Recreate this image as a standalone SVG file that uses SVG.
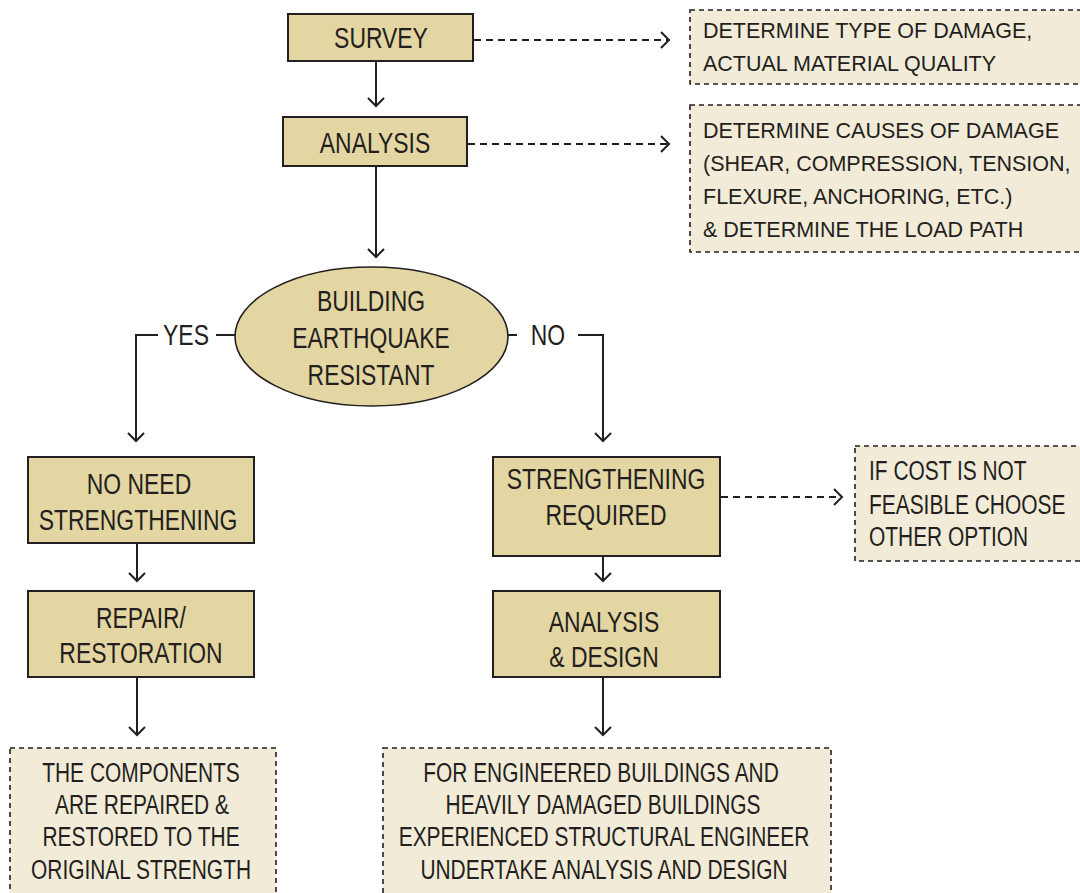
<svg xmlns="http://www.w3.org/2000/svg" width="1080" height="893" viewBox="0 0 1080 893">
<defs>
<style>
.box{fill:#E4D6A2;stroke:#231F20;stroke-width:2}
.note{fill:#F2EBD7;stroke:#231F20;stroke-width:1.6;stroke-dasharray:5 4}
.ln{fill:none;stroke:#231F20;stroke-width:2}
.dl{fill:none;stroke:#231F20;stroke-width:1.8;stroke-dasharray:7 5}
.t{font-family:"Liberation Sans",Arial,sans-serif;font-size:29px;fill:#231F20;text-anchor:middle}
.n{font-family:"Liberation Sans",Arial,sans-serif;font-size:21.5px;fill:#231F20}
.c{font-family:"Liberation Sans",Arial,sans-serif;font-size:27px;fill:#231F20}
.m{text-anchor:middle}
</style>
<marker id="ah" markerUnits="userSpaceOnUse" markerWidth="20" markerHeight="20" viewBox="-10 -10 20 20" refX="0" refY="0" orient="auto">
<path d="M-8,-8 L0,0 L-8,8" fill="none" stroke="#231F20" stroke-width="2"/>
</marker>
</defs>
<rect width="1080" height="893" fill="#FFFFFF"/>
<g id="connectors">
<path class="ln" d="M376,61 V106" marker-end="url(#ah)"/>
<path class="ln" d="M376,166 V257" marker-end="url(#ah)"/>
<path class="ln" d="M235,335 H216"/>
<path class="ln" d="M158,335 H136 V441" marker-end="url(#ah)"/>
<path class="ln" d="M508,335 H517"/>
<path class="ln" d="M578,335 H603 V441" marker-end="url(#ah)"/>
<path class="ln" d="M137,543 V581" marker-end="url(#ah)"/>
<path class="ln" d="M137,677 V735" marker-end="url(#ah)"/>
<path class="ln" d="M603,556 V581" marker-end="url(#ah)"/>
<path class="ln" d="M603,677 V735" marker-end="url(#ah)"/>
<path class="dl" d="M474,40 H669" marker-end="url(#ah)"/>
<path class="dl" d="M468,144 H669" marker-end="url(#ah)"/>
<path class="dl" d="M721,497 H842" marker-end="url(#ah)"/>
<text class="t" transform="matrix(0.79,0,0,1,186,0)" x="0" y="345">YES</text>
<text class="t" transform="matrix(0.79,0,0,1,548,0)" x="0" y="345">NO</text>
</g>
<g id="survey">
<rect class="box" x="288" y="14" width="185" height="47"/>
<text class="t" transform="matrix(0.79,0,0,1,381,0)" x="0" y="48">SURVEY</text>
</g>
<g id="analysis">
<rect class="box" x="283" y="117" width="184" height="49"/>
<text class="t" transform="matrix(0.79,0,0,1,375,0)" x="0" y="153">ANALYSIS</text>
</g>
<g id="note-survey">
<rect class="note" x="690" y="10" width="400" height="74"/>
<text class="n" x="703" y="38">DETERMINE TYPE OF DAMAGE,</text>
<text class="n" x="703" y="71">ACTUAL MATERIAL QUALITY</text>
</g>
<g id="note-analysis">
<rect class="note" x="690" y="105" width="400" height="147"/>
<text class="n" x="703" y="138">DETERMINE CAUSES OF DAMAGE</text>
<text class="n" x="703" y="171">(SHEAR, COMPRESSION, TENSION,</text>
<text class="n" x="703" y="204">FLEXURE, ANCHORING, ETC.)</text>
<text class="n" x="703" y="237">&amp; DETERMINE THE LOAD PATH</text>
</g>
<g id="decision">
<ellipse cx="371.5" cy="336.5" rx="136.5" ry="69.5" fill="#E4D6A2" stroke="#231F20" stroke-width="1.6"/>
<text class="t" transform="matrix(0.79,0,0,1,371,0)" x="0" y="311">BUILDING</text>
<text class="t" transform="matrix(0.79,0,0,1,371,0)" x="0" y="348">EARTHQUAKE</text>
<text class="t" transform="matrix(0.79,0,0,1,371,0)" x="0" y="385">RESISTANT</text>
</g>
<g id="no-need">
<rect class="box" x="28" y="457" width="226" height="86"/>
<text class="t" transform="matrix(0.79,0,0,1,139,0)" x="0" y="494">NO NEED</text>
<text class="t" transform="matrix(0.79,0,0,1,138,0)" x="0" y="530">STRENGTHENING</text>
</g>
<g id="repair">
<rect class="box" x="28" y="591" width="226" height="86"/>
<text class="t" transform="matrix(0.79,0,0,1,141,0)" x="0" y="628">REPAIR/</text>
<text class="t" transform="matrix(0.79,0,0,1,141,0)" x="0" y="663">RESTORATION</text>
</g>
<g id="note-repair">
<rect class="note" x="10" y="748" width="266" height="160"/>
<text class="c m" transform="matrix(0.775,0,0,1,141,0)" x="0" y="782">THE COMPONENTS</text>
<text class="c m" transform="matrix(0.775,0,0,1,142,0)" x="0" y="814">ARE REPAIRED &amp;</text>
<text class="c m" transform="matrix(0.775,0,0,1,141,0)" x="0" y="846">RESTORED TO THE</text>
<text class="c m" transform="matrix(0.775,0,0,1,141,0)" x="0" y="879">ORIGINAL STRENGTH</text>
</g>
<g id="strengthening">
<rect class="box" x="493" y="457" width="227" height="99"/>
<text class="t" transform="matrix(0.79,0,0,1,606,0)" x="0" y="489">STRENGTHENING</text>
<text class="t" transform="matrix(0.79,0,0,1,606,0)" x="0" y="525">REQUIRED</text>
</g>
<g id="note-cost">
<rect class="note" x="855" y="446" width="235" height="115"/>
<text class="c" transform="matrix(0.775,0,0,1,869,0)" x="0" y="480">IF COST IS NOT</text>
<text class="c" transform="matrix(0.775,0,0,1,869,0)" x="0" y="514">FEASIBLE CHOOSE</text>
<text class="c" transform="matrix(0.775,0,0,1,869,0)" x="0" y="546">OTHER OPTION</text>
</g>
<g id="analysis-design">
<rect class="box" x="493" y="591" width="227" height="86"/>
<text class="t" transform="matrix(0.79,0,0,1,604,0)" x="0" y="632">ANALYSIS</text>
<text class="t" transform="matrix(0.79,0,0,1,604,0)" x="0" y="667">&amp; DESIGN</text>
</g>
<g id="note-design">
<rect class="note" x="383" y="748" width="448" height="160"/>
<text class="c m" transform="matrix(0.775,0,0,1,601,0)" x="0" y="782">FOR ENGINEERED BUILDINGS AND</text>
<text class="c m" transform="matrix(0.775,0,0,1,603,0)" x="0" y="814">HEAVILY DAMAGED BUILDINGS</text>
<text class="c m" transform="matrix(0.775,0,0,1,604,0)" x="0" y="846">EXPERIENCED STRUCTURAL ENGINEER</text>
<text class="c m" transform="matrix(0.775,0,0,1,604,0)" x="0" y="879">UNDERTAKE ANALYSIS AND DESIGN</text>
</g>
</svg>
